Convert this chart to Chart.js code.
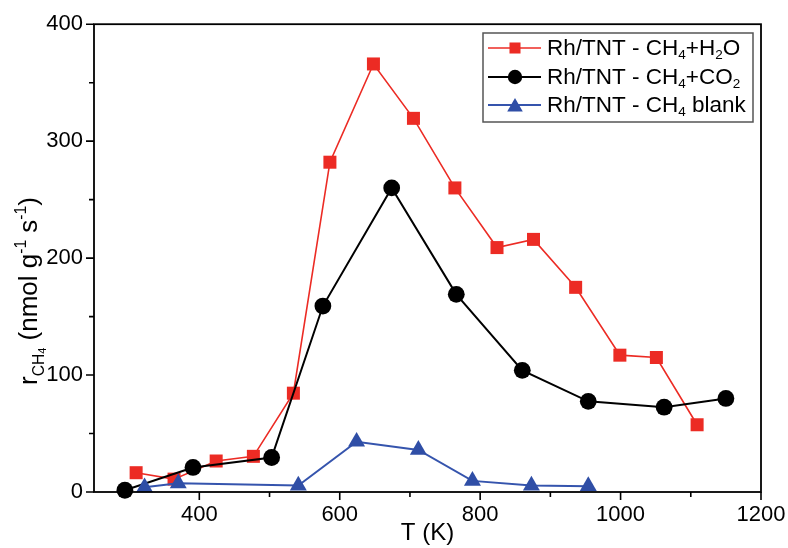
<!DOCTYPE html>
<html>
<head>
<meta charset="utf-8">
<script src="https://cdn.jsdelivr.net/npm/chart.js@4.4.1/dist/chart.umd.min.js"></script>
<style>
  html, body { margin: 0; padding: 0; background: #fff; }
  #wrap { width: 788px; height: 548px; }
</style>
</head>
<body>
<div id="wrap"><canvas id="rateChart" width="788" height="548"></canvas></div>
<script>
// values: temperature (K) and CH4 rate (nmol g-1 s-1)
const h2oTemp = [310, 364, 424, 477, 534, 586, 648, 705, 764, 824, 876, 936, 999, 1051, 1109];
const h2oRate = [16.5, 11, 26.5, 30.5, 84.5, 282, 366, 319.5, 260, 209, 216, 175, 117, 115, 57.5];

const co2Temp = [294, 391, 503, 576, 674, 766, 860, 954, 1062, 1150];
const co2Rate = [1.5, 21, 29.5, 159, 260, 169, 104, 77.5, 72.5, 80];

const blankTemp = [322, 370, 541, 624, 712, 789, 873, 954];
const blankRate = [4, 7.5, 5.5, 43, 36, 9.5, 5.5, 5];

const xMajorTicks = [400, 600, 800, 1000, 1200];
const xMinorTicks = [300, 500, 700, 900, 1100];
const yMajorTicks = [0, 100, 200, 300, 400];
const yMinorTicks = [50, 150, 250, 350];

const legendLabels = [
    [['Rh/TNT - CH', ''], ['4', 'sub'], ['+H', ''], ['2', 'sub'], ['O', '']],
    [['Rh/TNT - CH', ''], ['4', 'sub'], ['+CO', ''], ['2', 'sub']],
    [['Rh/TNT - CH', ''], ['4', 'sub'], [' blank', '']]
];

const RED = '#ec2b24';
const BLACK = '#000000';
const BLUE = '#2f4ea6';
const FONT = '"Liberation Sans", Arial, Helvetica, sans-serif';

function toPoints(xs, ys) {
    return xs.map((x, i) => ({ x: x, y: ys[i] }));
}

// draws text with sub- and superscripts, returns the end x
function drawRich(ctx, parts, x, y, size) {
    let cx = x;
    parts.forEach(function(p) {
        let s = size, dy = 0;
        if (p[1] === 'sub') { s = size * 0.6; dy = size * 0.28; }
        if (p[1] === 'sub2') { s = size * 0.42; dy = size * 0.36; }
        if (p[1] === 'sup') { s = size * 0.6; dy = -size * 0.42; }
        ctx.font = s + 'px ' + FONT;
        ctx.fillText(p[0], cx, y + dy);
        cx += ctx.measureText(p[0]).width;
    });
    return cx;
}

function richWidth(ctx, parts, size) {
    let w = 0;
    parts.forEach(function(p) {
        let s = size;
        if (p[1] === 'sub' || p[1] === 'sup') s = size * 0.6;
        if (p[1] === 'sub2') s = size * 0.42;
        ctx.font = s + 'px ' + FONT;
        w += ctx.measureText(p[0]).width;
    });
    return w;
}

const extras = {
    id: 'extras',
    afterDraw(chart) {
        const ctx = chart.ctx;
        const area = chart.chartArea;
        const xs = chart.scales.x, ys = chart.scales.y;
        ctx.save();

        // frame
        ctx.strokeStyle = '#000';
        ctx.lineWidth = 1.8;
        ctx.strokeRect(area.left, area.top, area.right - area.left, area.bottom - area.top);

        // outward ticks
        ctx.lineWidth = 1.6;
        ctx.beginPath();
        xMajorTicks.forEach(v => { const p = xs.getPixelForValue(v); ctx.moveTo(p, area.bottom); ctx.lineTo(p, area.bottom + 8); });
        xMinorTicks.forEach(v => { const p = xs.getPixelForValue(v); ctx.moveTo(p, area.bottom); ctx.lineTo(p, area.bottom + 5); });
        yMajorTicks.forEach(v => { const p = ys.getPixelForValue(v); ctx.moveTo(area.left, p); ctx.lineTo(area.left - 8, p); });
        yMinorTicks.forEach(v => { const p = ys.getPixelForValue(v); ctx.moveTo(area.left, p); ctx.lineTo(area.left - 5, p); });
        ctx.stroke();

        // y axis title with sub/superscripts
        ctx.fillStyle = '#000';
        ctx.textBaseline = 'alphabetic';
        ctx.textAlign = 'left';
        const yTitle = [['r', ''], ['CH', 'sub'], ['4', 'sub2'], [' (nmol g', ''], ['-1', 'sup'], [' s', ''], ['-1', 'sup'], [')', '']];
        const ySize = 26;
        ctx.translate(37, 291);
        ctx.rotate(-Math.PI / 2);
        drawRich(ctx, yTitle, -richWidth(ctx, yTitle, ySize) / 2, 0, ySize);
        ctx.setTransform(1, 0, 0, 1, 0, 0);

        // legend box
        const box = { left: 483, top: 33, right: 753, bottom: 122 };
        ctx.strokeStyle = '#555';
        ctx.lineWidth = 1.5;
        ctx.strokeRect(box.left, box.top, box.right - box.left, box.bottom - box.top);
        const rows = [48, 77, 105];
        const sets = chart.data.datasets;
        rows.forEach(function(ry, i) {
            const ds = sets[i];
            ctx.strokeStyle = ds.borderColor;
            ctx.lineWidth = ds.borderWidth;
            ctx.beginPath();
            ctx.moveTo(488, ry);
            ctx.lineTo(541, ry);
            ctx.stroke();
            ctx.fillStyle = ds.pointBackgroundColor;
            Chart.helpers.drawPoint(ctx, { pointStyle: ds.pointStyle, radius: [7.8, 7.2, 9][i], rotation: 0, borderWidth: 0 }, 515, ry + (i === 2 ? 2 : 0));
            ctx.fillStyle = '#000';
            ctx.textBaseline = 'middle';
            drawRich(ctx, legendLabels[i], 547, ry + 1, 22.5);
        });
        ctx.restore();
    }
};

document.addEventListener('DOMContentLoaded', function() {
    const ctx = document.getElementById('rateChart').getContext('2d');

    new Chart(ctx, {
        type: 'line',
        data: {
            datasets: [{
                label: 'Rh/TNT - CH4+H2O',
                data: toPoints(h2oTemp, h2oRate),
                borderColor: RED,
                borderWidth: 1.6,
                pointStyle: 'rect',
                pointRadius: 9.2,
                pointBackgroundColor: RED,
                pointBorderWidth: 0,
                clip: false,
                order: 3
            }, {
                label: 'Rh/TNT - CH4+CO2',
                data: toPoints(co2Temp, co2Rate),
                borderColor: BLACK,
                borderWidth: 2,
                pointStyle: 'circle',
                pointRadius: 8.4,
                pointBackgroundColor: BLACK,
                pointBorderWidth: 0,
                clip: false,
                order: 2
            }, {
                label: 'Rh/TNT - CH4 blank',
                data: toPoints(blankTemp, blankRate),
                borderColor: '#3554ad',
                borderWidth: 2,
                pointStyle: 'triangle',
                pointRadius: 9.8,
                pointBackgroundColor: BLUE,
                pointBorderWidth: 0,
                clip: false,
                order: 1
            }]
        },
        options: {
            responsive: false,
            animation: false,
            layout: { padding: { top: 20, right: 27, left: 0, bottom: 0 } },
            plugins: {
                legend: { display: false },
                tooltip: { enabled: false }
            },
            scales: {
                x: {
                    type: 'linear',
                    min: 250,
                    max: 1200,
                    afterFit: function(scale) {
                        scale.height = 56;
                        scale.paddingLeft = 0;
                        scale.paddingRight = 0;
                    },
                    afterBuildTicks: function(scale) { scale.ticks = xMajorTicks.map(v => ({ value: v })); },
                    grid: { display: false, drawTicks: false },
                    border: { display: false },
                    ticks: {
                        padding: 10,
                        color: '#000',
                        font: { family: FONT, size: 22 },
                        maxRotation: 0,
                        callback: v => String(v)
                    },
                    title: {
                        display: true,
                        text: 'T (K)',
                        color: '#000',
                        font: { family: FONT, size: 24 },
                        padding: { top: -2, bottom: 0 }
                    }
                },
                y: {
                    min: 0,
                    max: 400,
                    afterFit: function(scale) { scale.width = 94; },
                    afterBuildTicks: function(scale) { scale.ticks = yMajorTicks.map(v => ({ value: v })); },
                    grid: { display: false, drawTicks: false },
                    border: { display: false },
                    ticks: {
                        padding: 11,
                        color: '#000',
                        font: { family: FONT, size: 22 },
                        callback: v => String(v)
                    }
                }
            }
        },
        plugins: [extras]
    });
});
</script>
</body>
</html>
